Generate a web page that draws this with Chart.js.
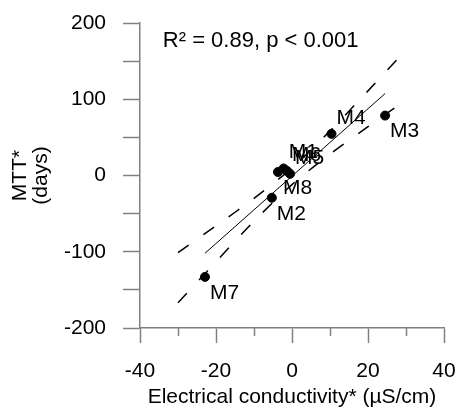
<!DOCTYPE html>
<html>
<head>
<meta charset="utf-8">
<script src="https://cdn.jsdelivr.net/npm/chart.js@4.4.0/dist/chart.umd.min.js"></script>
<style>
  html, body { margin: 0; padding: 0; background: #fff; }
</style>
</head>
<body>
<canvas id="chart" width="459" height="408"></canvas>
<script>
// sites and their values
const siteNames = ['M1', 'M2', 'M3', 'M4', 'M5', 'M6', 'M7', 'M8'];
const ecValues = [-2.2, -5.3, 24.5, 10.4, -0.5, -1.3, -22.9, -3.7];
const mttValues = [9.2, -29.2, 78.6, 54.6, 2.2, 5.9, -133, 4.6];

// regression line
const fitX = [-22.9, 24.5];
const fitY = [-102, 107.5];

// confidence band
const bandX = [-30, -20, -10, 0, 10, 20, 28];
const bandUpper = [-101, -66, -30, 10, 58.5, 111, 154];
const bandLower = [-167, -113, -60, -12, 28, 64, 92];

// labelled ticks
const xTicks = [-40, -20, 0, 20, 40];
const yTicks = [-200, -100, 0, 100, 200];

const statText = 'R\u00b2 = 0.89, p < 0.001';

const FONT = '"Liberation Sans", Arial, sans-serif';
const AXIS = '#808080';
const labelsAbove = ['M1', 'M5', 'M6', 'M4'];

function toPoints(xs, ys) {
    return xs.map((v, i) => ({ x: v, y: ys[i] }));
}

// point labels, stats text and the short minor ticks on x
const extras = {
    id: 'extras',
    afterDraw(chart) {
        const { ctx, scales: { x, y } } = chart;
        ctx.save();

        ctx.strokeStyle = AXIS;
        ctx.lineWidth = 1.5;
        x.ticks.forEach(t => {
            if (xTicks.includes(t.value)) return;
            const px = Math.round(x.getPixelForValue(t.value)) + 0.5;
            ctx.beginPath();
            ctx.moveTo(px, x.top);
            ctx.lineTo(px, x.top + 8);
            ctx.stroke();
        });

        ctx.font = '21px ' + FONT;
        ctx.fillStyle = '#000';
        ctx.textAlign = 'left';
        ctx.textBaseline = 'middle';
        siteNames.forEach((name, i) => {
            const px = x.getPixelForValue(ecValues[i]);
            const py = y.getPixelForValue(mttValues[i]);
            const dy = labelsAbove.includes(name) ? -16 : 16;
            ctx.fillText(name, px + 5, py + dy);
        });

        ctx.font = '22px ' + FONT;
        ctx.fillText(statText, x.getPixelForValue(-34), y.getPixelForValue(177));
        ctx.restore();
    }
};

new Chart(document.getElementById('chart'), {
    type: 'scatter',
    data: {
        datasets: [
            {
                data: toPoints(ecValues, mttValues),
                backgroundColor: '#000',
                borderColor: '#000',
                pointRadius: 4.5,
                pointHoverRadius: 4.5
            },
            {
                data: toPoints(fitX, fitY),
                showLine: true,
                borderColor: '#000',
                borderWidth: 1,
                pointRadius: 0
            },
            {
                data: toPoints(bandX, bandUpper),
                showLine: true,
                borderColor: '#000',
                borderWidth: 1.5,
                borderDash: [13, 18],
                tension: 0.3,
                pointRadius: 0
            },
            {
                data: toPoints(bandX, bandLower),
                showLine: true,
                borderColor: '#000',
                borderWidth: 1.5,
                borderDash: [13, 18],
                tension: 0.3,
                pointRadius: 0
            }
        ]
    },
    options: {
        responsive: false,
        animation: false,
        events: [],
        layout: { padding: { top: 23, right: 15, left: 0, bottom: 0 } },
        plugins: {
            legend: { display: false },
            tooltip: { enabled: false }
        },
        scales: {
            x: {
                type: 'linear',
                min: -40,
                max: 40,
                afterFit: s => {
                    s.height = 80;
                    s.paddingLeft = 0;
                    s.paddingRight = 0;
                },
                ticks: {
                    stepSize: 10,
                    autoSkip: false,
                    maxRotation: 0,
                    padding: 16,
                    color: '#000',
                    font: { family: FONT, size: 21, lineHeight: 1.2 },
                    callback: v => xTicks.includes(v) ? v : ''
                },
                grid: {
                    drawOnChartArea: false,
                    tickLength: 15,
                    tickWidth: 1.5,
                    tickColor: c => xTicks.includes(c.tick.value) ? AXIS : 'rgba(0,0,0,0)'
                },
                border: { display: true, color: AXIS, width: 1.5 },
                title: {
                    display: true,
                    text: 'Electrical conductivity* (\u00b5S/cm)',
                    color: '#000',
                    font: { family: FONT, size: 21, lineHeight: 1.0 },
                    padding: { top: 0, bottom: 0 }
                }
            },
            y: {
                type: 'linear',
                min: -200,
                max: 200,
                afterFit: s => {
                    s.width = 140;
                    s.paddingTop = 0;
                    s.paddingBottom = 0;
                },
                ticks: {
                    stepSize: 50,
                    autoSkip: false,
                    padding: 17,
                    color: '#000',
                    font: { family: FONT, size: 21 },
                    callback: v => yTicks.includes(v) ? v : ''
                },
                grid: {
                    drawOnChartArea: false,
                    tickLength: 17,
                    tickWidth: 1.5,
                    tickColor: AXIS
                },
                border: { display: true, color: AXIS, width: 1.5 },
                title: {
                    display: true,
                    text: ['MTT*', '(days)'],
                    color: '#000',
                    font: { family: FONT, size: 21, lineHeight: 1.0 },
                    padding: { top: 10, bottom: 0 }
                }
            }
        }
    },
    plugins: [extras]
});
</script>
</body>
</html>
